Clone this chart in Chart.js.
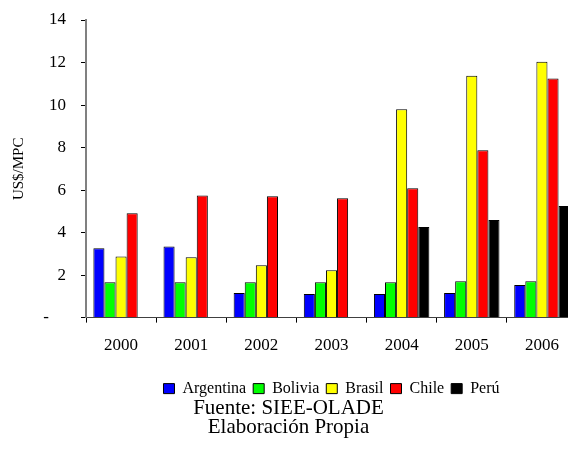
<!DOCTYPE html>
<html>
<head>
<meta charset="utf-8">
<script src="https://cdn.jsdelivr.net/npm/chart.js@4"></script>
<style>
  body { margin: 0; width: 568px; height: 450px; overflow: hidden; background: #fff; }
  #wrap { width: 580px; height: 450px; }
</style>
</head>
<body>
<div id="wrap"><canvas id="myChart" width="580" height="450"></canvas></div>
<script>
var years = ['2000', '2001', '2002', '2003', '2004', '2005', '2006'];
var argentina = [3.26, 3.35, 1.16, 1.11, 1.11, 1.16, 1.54];
var bolivia = [1.66, 1.66, 1.66, 1.66, 1.66, 1.71, 1.71];
var brasil = [2.88, 2.84, 2.46, 2.23, 9.80, 11.38, 12.04];
var chile = [4.91, 5.75, 5.71, 5.61, 6.08, 7.87, 11.25];
var peru = [null, null, null, null, 4.26, 4.59, 5.25];
var footer = ['Fuente: SIEE-OLADE', 'Elaboración Propia'];

Chart.defaults.font.family = "'Liberation Serif', 'Times New Roman', serif";
Chart.defaults.color = '#000';

function bars(label, data, color) {
  return {
    label: label,
    data: data,
    backgroundColor: color,
    borderColor: '#000',
    borderWidth: 1,
    categoryPercentage: 0.79,
    barPercentage: 1.0
  };
}

var ctx = document.getElementById('myChart').getContext('2d');
var myChart = new Chart(ctx, {
  type: 'bar',
  data: {
    labels: years,
    datasets: [
      bars('Argentina', argentina, '#0000ff'),
      bars('Bolivia', bolivia, '#00ff00'),
      bars('Brasil', brasil, '#ffff00'),
      bars('Chile', chile, '#ff0000'),
      bars('Perú', peru, '#000000')
    ]
  },
  options: {
    responsive: false,
    animation: false,
    devicePixelRatio: 1,
    layout: { padding: { top: 20, right: 3, left: 0, bottom: 0 } },
    plugins: {
      tooltip: { enabled: false },
      legend: {
        position: 'bottom',
        fullSize: false,
        labels: {
          boxWidth: 11,
          boxHeight: 10,
          padding: 7,
          font: { size: 16 }
        }
      },
      title: {
        display: true,
        position: 'bottom',
        text: footer,
        font: { size: 21, weight: 'normal', lineHeight: 0.89 },
        padding: { top: -7, bottom: 13 }
      }
    },
    scales: {
      x: {
        afterFit: function (s) { s.height = 56; },
        grid: { offset: true, drawOnChartArea: false, tickLength: 5, color: '#000' },
        border: { color: '#404040', width: 1 },
        ticks: { font: { size: 17 }, padding: 13, maxRotation: 0 }
      },
      y: {
        min: 0,
        max: 14,
        afterFit: function (s) { s.width = 86; s.paddingTop = 0; s.paddingBottom = 0; },
        grid: { drawOnChartArea: false, tickLength: 5, color: '#000' },
        border: { color: '#808080', width: 2 },
        ticks: {
          stepSize: 2,
          padding: 15,
          font: { size: 17 },
          callback: function (v) { return v === 0 ? '-\u00a0\u00a0\u00a0\u00a0' : v; }
        },
        title: {
          display: true,
          text: 'US$/MPC',
          font: { size: 15 },
          padding: { top: 10, bottom: 0 }
        }
      }
    }
  }
});
</script>
</body>
</html>
